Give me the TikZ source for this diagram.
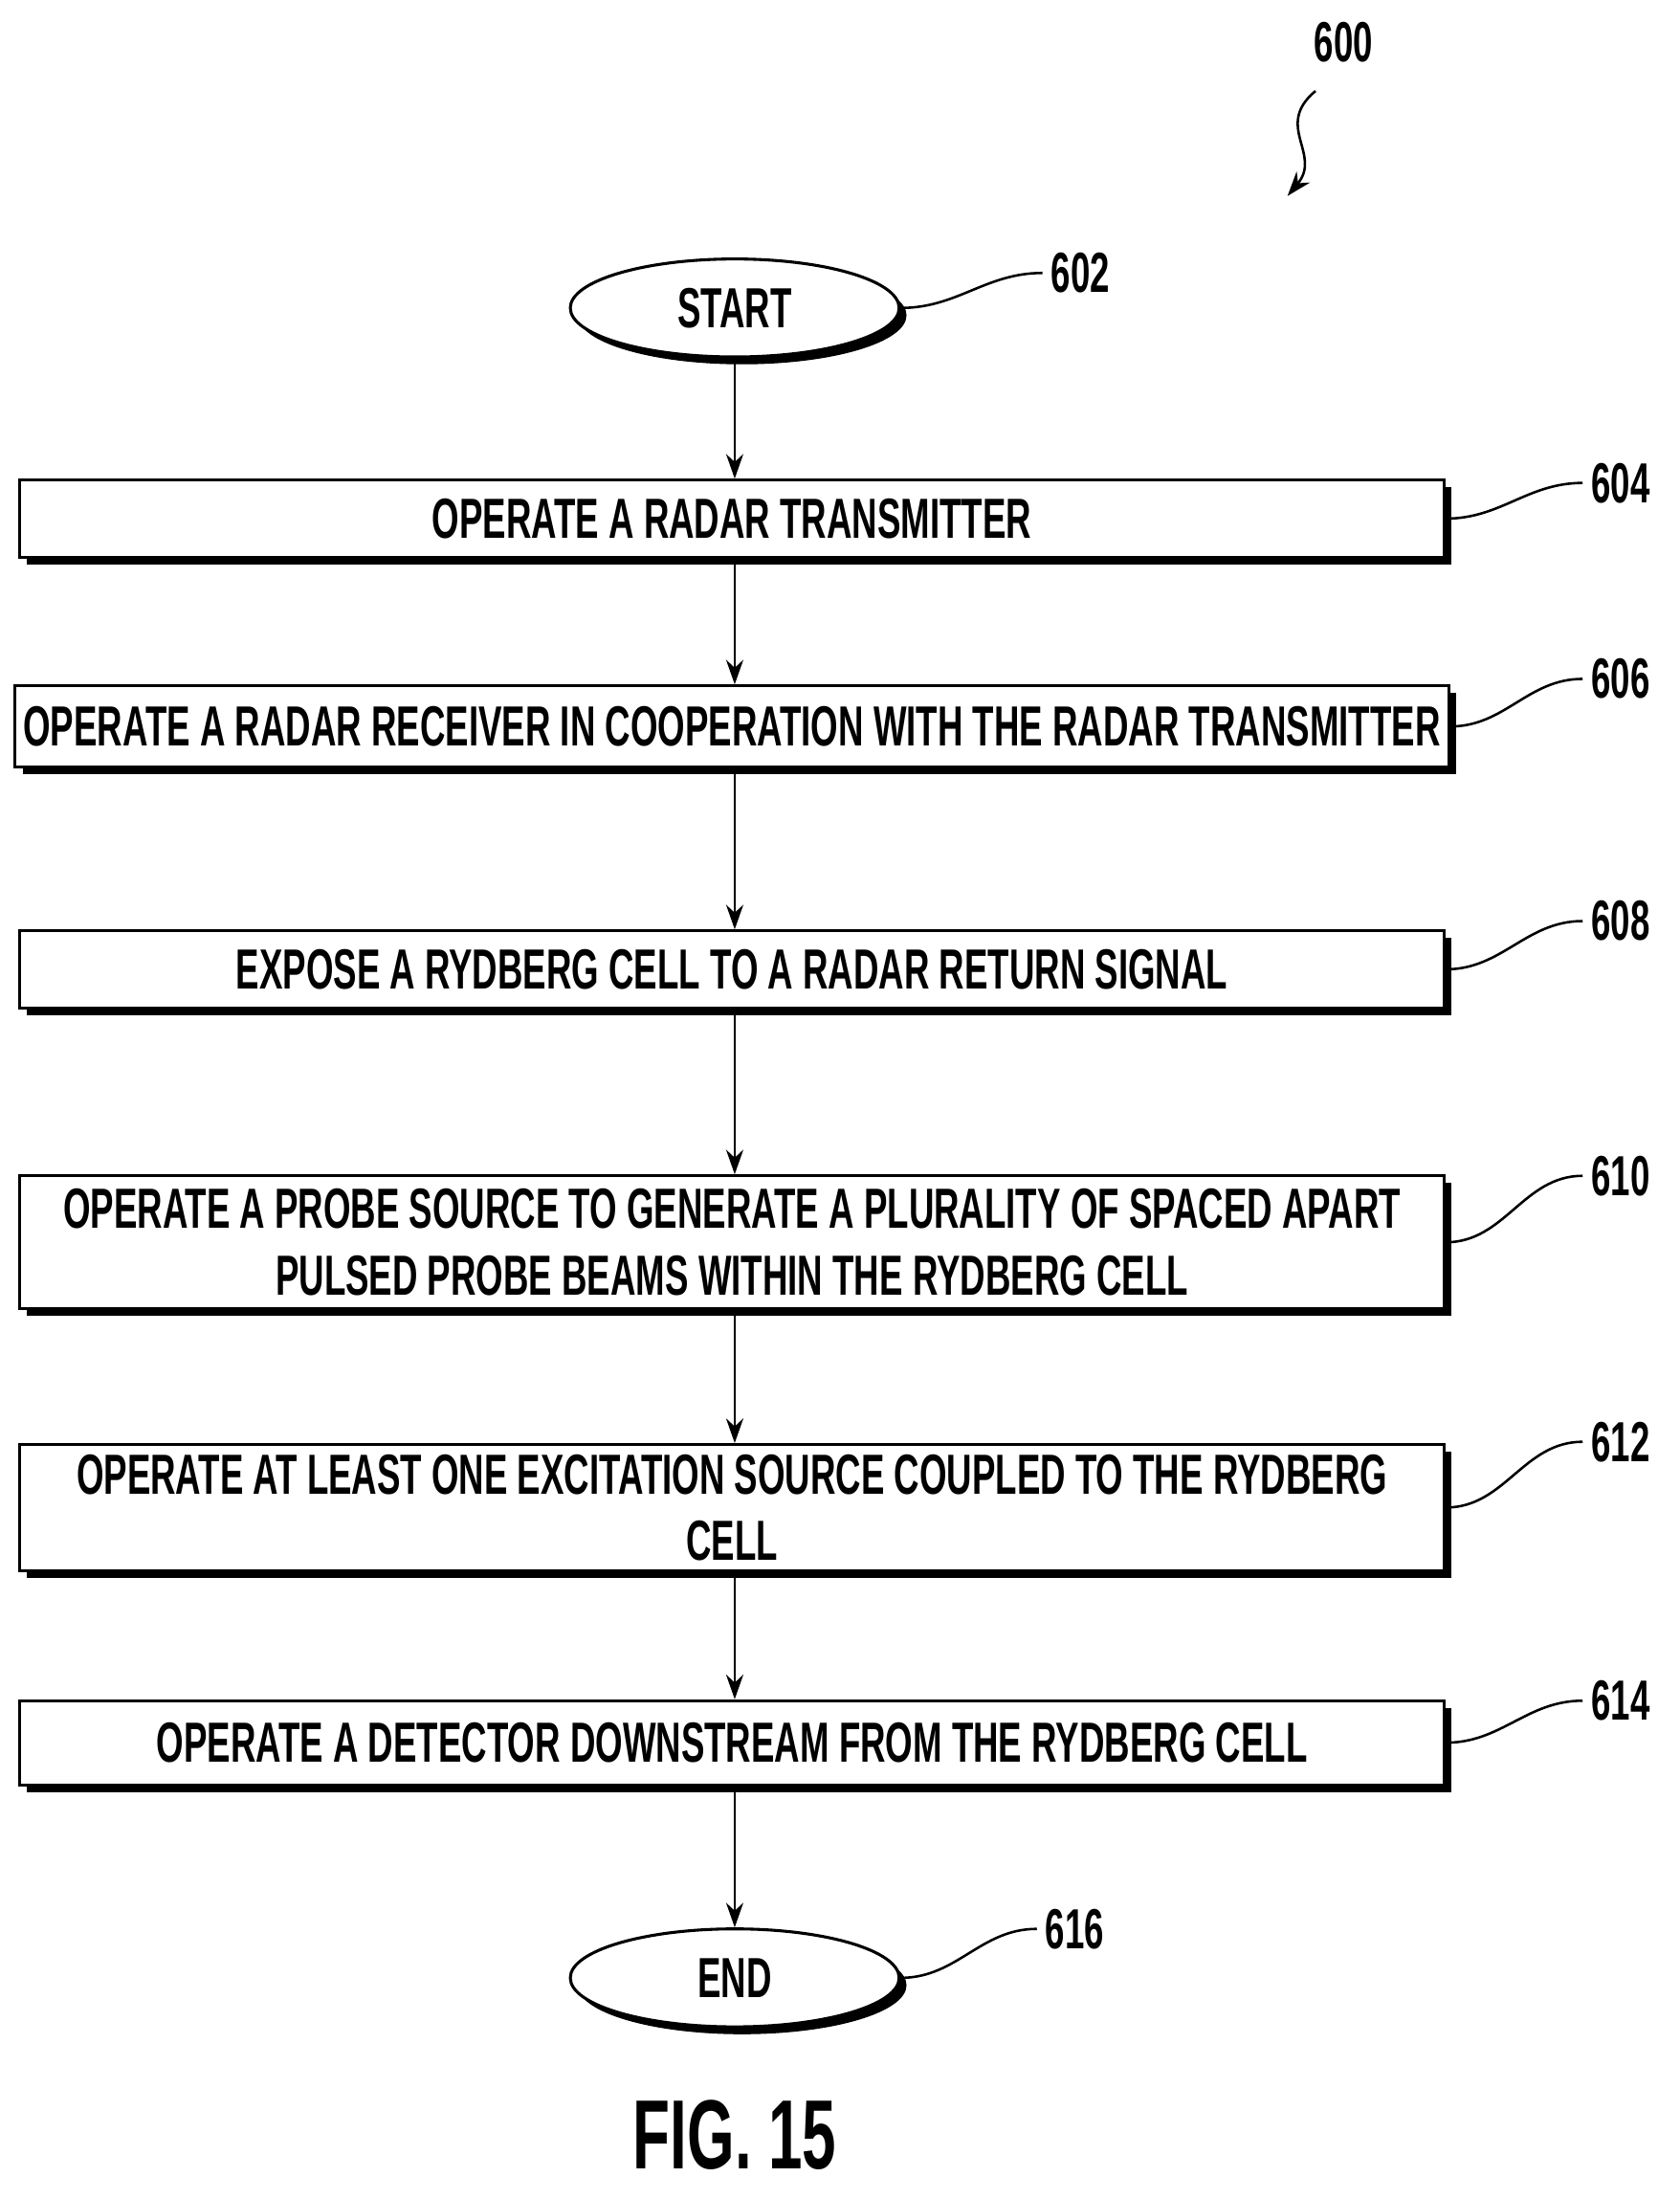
\documentclass[tikz,border=0pt]{standalone}
\usepackage{fontspec}
\setmainfont{Liberation Sans}[FakeStretch=0.62,UprightFont=*-Bold]
\usetikzlibrary{shapes.geometric,shadows,arrows.meta,positioning}
\tikzset{
  action/.style={rectangle,draw,line width=1.2pt,fill=white,minimum width=20.36cm,align=center,
    font=\fontsize{23}{27}\selectfont,drop shadow={shadow xshift=3pt,shadow yshift=-3pt,fill=black,opacity=1}},
  term/.style={ellipse,draw,line width=1.2pt,fill=white,minimum width=4.7cm,minimum height=1.4cm,
    font=\fontsize{23}{27}\selectfont,drop shadow={shadow xshift=3pt,shadow yshift=-3pt,fill=black,opacity=1}},
  ref/.style={font=\fontsize{23}{27}\selectfont},
  flow/.style={-{Stealth[length=10pt,width=7pt]},line width=1pt},
  lead/.style={line width=1pt}
}
\begin{document}
\begin{tikzpicture}
\useasboundingbox (0,0) rectangle (24,-31.42);
\node (start) at (10.5,-4.4)[term] {START};
\node (s604) at (10.46,-7.41)[action,minimum height=1.1cm] {OPERATE A RADAR TRANSMITTER};
\node (s606) at (10.46,-10.38)[action,minimum height=1.16cm] {OPERATE A RADAR RECEIVER IN COOPERATION WITH THE RADAR TRANSMITTER};
\node (s608) at (10.46,-13.85)[action,minimum height=1.1cm] {EXPOSE A RYDBERG CELL TO A RADAR RETURN SIGNAL};
\node (s610) at (10.46,-17.75)[action,minimum height=1.9cm] {OPERATE A PROBE SOURCE TO GENERATE A PLURALITY OF SPACED APART\\PULSED PROBE BEAMS WITHIN THE RYDBERG CELL};
\node (s612) at (10.46,-21.54)[action,minimum height=1.8cm] {OPERATE AT LEAST ONE EXCITATION SOURCE COUPLED TO THE RYDBERG\\CELL};
\node (s614) at (10.46,-24.9)[action,minimum height=1.2cm] {OPERATE A DETECTOR DOWNSTREAM FROM THE RYDBERG CELL};
\node (end) at (10.5,-28.26)[term] {END};

\draw[flow] (start) -- (start|-s604.north);
\draw[flow] (start|-s604.south) -- (start|-s606.north);
\draw[flow] (start|-s606.south) -- (start|-s608.north);
\draw[flow] (start|-s608.south) -- (start|-s610.north);
\draw[flow] (start|-s610.south) -- (start|-s612.north);
\draw[flow] (start|-s612.south) -- (start|-s614.north);
\draw[flow] (start|-s614.south) -- (end);

% reference numerals
\node (l600) at (19.2,-0.6)[ref] {600};
\node (l602) at (15.44,-3.9)[ref] {602};
\node (l604) at (23.16,-6.9)[ref] {604};
\node (l606) at (23.16,-9.7)[ref] {606};
\node (l608) at (23.16,-13.16)[ref] {608};
\node (l610) at (23.16,-16.8)[ref] {610};
\node (l612) at (23.16,-20.6)[ref] {612};
\node (l614) at (23.16,-24.3)[ref] {614};
\node (l616) at (15.36,-27.56)[ref] {616};
\coordinate (a600) at (18.8,-1.3);
\coordinate (b600) at (18.4,-2.8);

\draw[lead] (start.east) to[out=0,in=180] (l602.west);
\draw[lead] (end.east) to[out=0,in=180] (l616.west);
\draw[lead] (s604.east) to[out=0,in=180] (l604.west);
\draw[lead] (s606.east) to[out=0,in=180] (l606.west);
\draw[lead] (s608.east) to[out=0,in=180] (l608.west);
\draw[lead] (s610.east) to[out=0,in=180] (l610.west);
\draw[lead] (s612.east) to[out=0,in=180] (l612.west);
\draw[lead] (s614.east) to[out=0,in=180] (l614.west);
\draw[flow] (a600) .. controls (18.2,-1.8) and (18.9,-2.2) .. (b600);

\node (fig) at (10.5,-30.5) {\fontsize{40}{46}\selectfont FIG.\,15};
\end{tikzpicture}
\end{document}
